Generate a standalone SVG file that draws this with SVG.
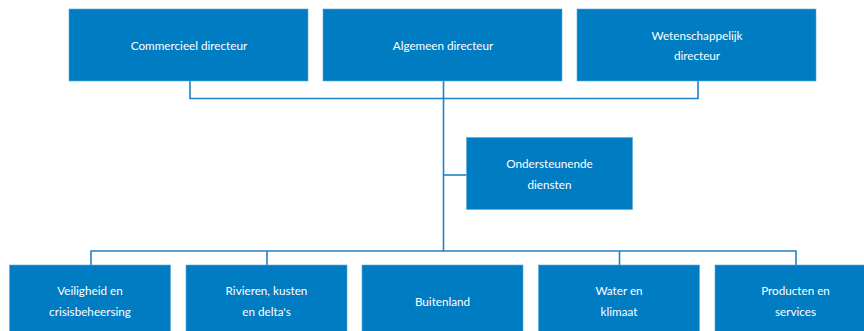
<svg xmlns="http://www.w3.org/2000/svg" width="864" height="331" viewBox="0 0 864 331">
<style>
.box{fill:#007cc2;stroke:#5fa9dc;stroke-width:0.6}
.t{font-family:Lato,"Open Sans",sans-serif;font-size:11.7px;fill:#ffffff;text-anchor:middle}
.c{fill:none;stroke:#1f83c4;stroke-width:1.6}
</style>
<rect width="864" height="331" fill="#ffffff"/>
<g id="connectors">
<path class="c" d="M190,81 V98.5 H698 V81"/>
<path class="c" d="M443.5,81 V251"/>
<path class="c" d="M443.5,175 H466.5"/>
<path class="c" d="M91,265 V251 H796 V265"/>
<path class="c" d="M267,251 V265"/>
<path class="c" d="M619.5,251 V265"/>
</g>
<g id="n-commercieel"><rect class="box" x="69" y="9" width="239" height="72"/><text class="t" x="189" y="49.5">Commercieel directeur</text></g>
<g id="n-algemeen"><rect class="box" x="323" y="9" width="239" height="72"/><text class="t" x="443" y="49.5">Algemeen directeur</text></g>
<g id="n-wetenschappelijk"><rect class="box" x="577" y="9" width="239" height="72"/><text class="t" x="697" y="39.5">Wetenschappelijk</text><text class="t" x="697" y="60">directeur</text></g>
<g id="n-ondersteunende"><rect class="box" x="466.5" y="137.5" width="166" height="72"/><text class="t" x="549.5" y="167.5">Ondersteunende</text><text class="t" x="549.5" y="188.5">diensten</text></g>
<g id="n-veiligheid"><rect class="box" x="9.5" y="265" width="161" height="72"/><text class="t" x="90" y="295">Veiligheid en</text><text class="t" x="90" y="316">crisisbeheersing</text></g>
<g id="n-rivieren"><rect class="box" x="186" y="265" width="161" height="72"/><text class="t" x="266.5" y="295">Rivieren, kusten</text><text class="t" x="266.5" y="316">en delta's</text></g>
<g id="n-buitenland"><rect class="box" x="362" y="265" width="161" height="72"/><text class="t" x="442.5" y="305.5">Buitenland</text></g>
<g id="n-water"><rect class="box" x="538.5" y="265" width="161" height="72"/><text class="t" x="619" y="295">Water en</text><text class="t" x="619" y="316">klimaat</text></g>
<g id="n-producten"><rect class="box" x="715" y="265" width="161" height="72"/><text class="t" x="795.5" y="295">Producten en</text><text class="t" x="795.5" y="316">services</text></g>
</svg>
